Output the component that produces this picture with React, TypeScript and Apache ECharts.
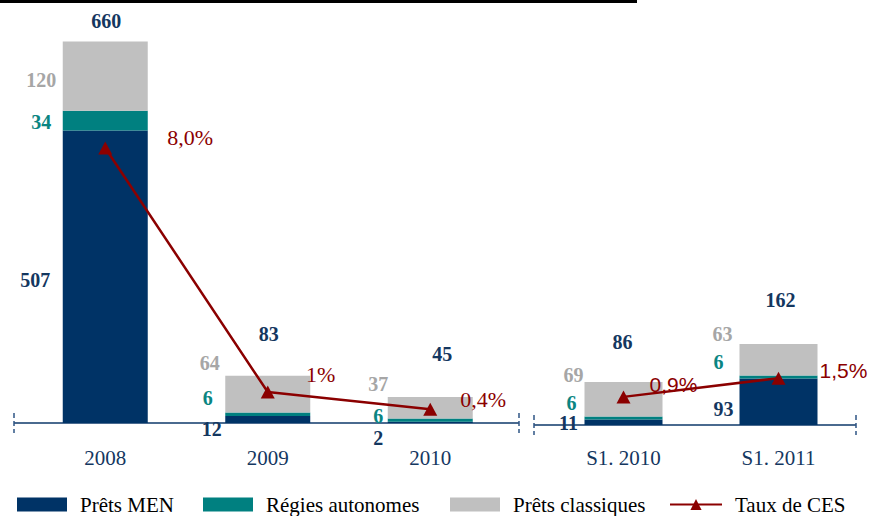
import React, { useEffect, useRef } from "react";
import * as echarts from "echarts";

// ---- Data ----
const categoriesAnnual = ["2008", "2009", "2010"];
const categoriesHalf = ["S1. 2010", "S1. 2011"];

const pretsMenAnnual = [507, 12, 2];
const regiesAnnual = [34, 6, 6];
const classiquesAnnual = [120, 64, 37];
const totalsAnnual = [660, 83, 45];
const cesAnnual = [8.0, 0.9, 0.4];
const cesAnnualLabels = ["8,0%", "1%", "0,4%"];

const pretsMenHalf = [11, 93];
const regiesHalf = [6, 6];
const classiquesHalf = [69, 63];
const totalsHalf = [86, 162];
const cesHalf = [0.9, 1.5];
const cesHalfLabels = ["0,9%", "1,5%"];

const legendNames = ["Prêts MEN", "Régies autonomes", "Prêts classiques", "Taux de CES"];

// ---- Label layout (offsets from segment / point centre) ----
const menOffA = [[-70, 3], [-56, 9], [-52, 16]];
const regOffA = [[-64, 1], [-60, -16], [-52, -4]];
const claOffA = [[-64, 4], [-58, -31], [-52, -24]];
const totOffA = [[1, -21], [1, -41], [12, -43]];
const cesOffA = [[85, -10], [53, -18], [53, -10]];

const menOffH = [[-55, 1], [-55, 7]];
const regOffH = [[-52, -15], [-60, -15]];
const claOffH = [[-50, -24], [-56, -26]];
const totOffH = [[-1, -40], [2, -44]];
const cesOffH = [[50, -12], [65, -8]];

const SERIF = "'Liberation Serif', 'Times New Roman', serif";
const SANS = "'Liberation Sans', Arial, sans-serif";
const NAVY = "#003366";
const TEAL = "#008080";
const GRAY = "#c0c0c0";
const RED = "#8b0000";
const NAVY_TXT = "#14375f";
const TEAL_TXT = "#0a8582";
const GRAY_TXT = "#a6a6a6";
const AXIS = "#4a6a8f";

function withLabels(values: number[], offsets: number[][], color: string) {
  return values.map((v, i) => ({
    value: v,
    label: {
      show: true,
      position: "inside",
      offset: offsets[i],
      color,
      opacity: 1,
      fontFamily: SERIF,
      fontWeight: "bold",
      fontSize: 20,
    },
  }));
}

function lineData(values: number[], offsets: number[][], labels: string[], family: string, size: number) {
  return values.map((v, i) => ({
    value: v,
    label: {
      show: true,
      position: "inside",
      offset: offsets[i],
      formatter: labels[i],
      color: RED,
      fontFamily: family,
      fontSize: size,
    },
  }));
}

export default function App() {
  const ref = useRef<HTMLDivElement>(null);
  useEffect(() => {
    if (!ref.current) return;
    const chart = echarts.init(ref.current, null, { renderer: "svg" });

    const barCommon = (xi: number, yi: number, stack: string, width: number) => ({
      type: "bar",
      xAxisIndex: xi,
      yAxisIndex: yi,
      stack,
      barWidth: width,
      silent: true,
    });

    const xAxisCommon = {
      type: "category",
      axisLine: { show: false },
      axisTick: { show: false },
      axisLabel: {
        color: NAVY_TXT,
        fontFamily: SERIF,
        fontSize: 21,
      },
    };

    const legendCommon = {
      top: 494,
      padding: 0,
      itemWidth: 50,
      itemHeight: 14,
      textStyle: {
        fontFamily: SERIF,
        fontSize: 21,
        color: "#000",
        padding: [0, 0, 0, 8],
      },
      selectedMode: false,
    };

    const totalSeries = (xi: number, yi: number, name: string, values: number[], offs: number[][]) => ({
      type: "scatter",
      name,
      xAxisIndex: xi,
      yAxisIndex: yi,
      symbol: "circle",
      symbolSize: 0.01,
      itemStyle: { color: NAVY_TXT },
      silent: true,
      z: 6,
      data: withLabels(values, offs, NAVY_TXT),
    });

    chart.setOption({
      animation: false,
      backgroundColor: "#ffffff",
      legend: [
        { ...legendCommon, left: 17, data: [{ name: legendNames[0], icon: "rect" }] },
        { ...legendCommon, left: 203, data: [{ name: legendNames[1], icon: "rect" }] },
        { ...legendCommon, left: 450, data: [{ name: legendNames[2], icon: "rect" }] },
        { ...legendCommon, left: 669, itemWidth: 52, data: [{ name: legendNames[3] }] },
      ],
      grid: [
        { left: 24, width: 487.5, top: 19, height: 404 },
        { left: 546, width: 310, top: 225, height: 200 },
      ],
      xAxis: [
        { ...xAxisCommon, gridIndex: 0, data: categoriesAnnual, axisLabel: { ...xAxisCommon.axisLabel, margin: 24 } },
        { ...xAxisCommon, gridIndex: 1, data: categoriesHalf, axisLabel: { ...xAxisCommon.axisLabel, margin: 22 } },
      ],
      yAxis: [
        { type: "value", gridIndex: 0, min: 0, max: 700, show: false },
        { type: "value", gridIndex: 0, min: 0, max: 11.75, show: false },
        { type: "value", gridIndex: 1, min: 0, max: 400, show: false },
        { type: "value", gridIndex: 1, min: 0, max: 6.4, show: false },
      ],
      graphic: [
        { type: "rect", shape: { x: 0, y: 0, width: 637, height: 3 }, style: { fill: "#000" }, silent: true },
        { type: "line", shape: { x1: 14, y1: 423, x2: 519, y2: 423 }, style: { stroke: AXIS, lineWidth: 2 }, silent: true },
        { type: "line", shape: { x1: 534, y1: 425, x2: 856, y2: 425 }, style: { stroke: AXIS, lineWidth: 2 }, silent: true },
        ...[
          [14, 413],
          [519, 413],
          [534, 415],
          [856, 415],
        ].map(([x, y]) => ({
          type: "line",
          shape: { x1: x, y1: y, x2: x, y2: y + 20 },
          style: { stroke: "#2f5585", lineWidth: 1.5, lineDash: [5, 3] },
          silent: true,
        })),
      ],
      series: [
        // Annual group
        { ...barCommon(0, 0, "a", 85), name: legendNames[0], itemStyle: { color: NAVY }, data: withLabels(pretsMenAnnual, menOffA, NAVY_TXT) },
        { ...barCommon(0, 0, "a", 85), name: legendNames[1], itemStyle: { color: TEAL }, data: withLabels(regiesAnnual, regOffA, TEAL_TXT) },
        { ...barCommon(0, 0, "a", 85), name: legendNames[2], itemStyle: { color: GRAY }, data: withLabels(classiquesAnnual, claOffA, GRAY_TXT) },
        totalSeries(0, 0, "Total annuel", totalsAnnual, totOffA),
        {
          type: "line",
          name: legendNames[3],
          xAxisIndex: 0,
          yAxisIndex: 1,
          symbol: "triangle",
          symbolSize: [14, 13],
          z: 5,
          lineStyle: { color: RED, width: 2.5 },
          itemStyle: { color: RED },
          data: lineData(cesAnnual, cesOffA, cesAnnualLabels, SERIF, 22),
        },
        // Half-year group
        { ...barCommon(1, 2, "b", 78), name: legendNames[0], itemStyle: { color: NAVY }, data: withLabels(pretsMenHalf, menOffH, NAVY_TXT) },
        { ...barCommon(1, 2, "b", 78), name: legendNames[1], itemStyle: { color: TEAL }, data: withLabels(regiesHalf, regOffH, TEAL_TXT) },
        { ...barCommon(1, 2, "b", 78), name: legendNames[2], itemStyle: { color: GRAY }, data: withLabels(classiquesHalf, claOffH, GRAY_TXT) },
        totalSeries(1, 2, "Total semestriel", totalsHalf, totOffH),
        {
          type: "line",
          name: legendNames[3],
          xAxisIndex: 1,
          yAxisIndex: 3,
          symbol: "triangle",
          symbolSize: [14, 13],
          z: 5,
          lineStyle: { color: RED, width: 2.5 },
          itemStyle: { color: RED },
          data: lineData(cesHalf, cesOffH, cesHalfLabels, SANS, 21),
        },
      ],
    });

    return () => chart.dispose();
  }, []);

  return (
    <div
      ref={ref}
      style={{ position: "absolute", left: 0, top: 0, width: 869, height: 516, background: "#fff" }}
    />
  );
}
